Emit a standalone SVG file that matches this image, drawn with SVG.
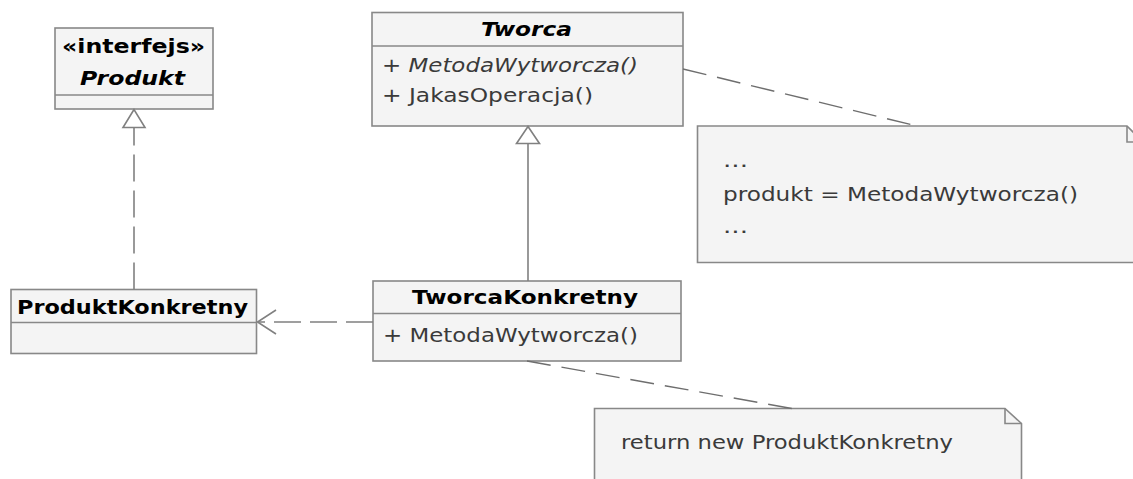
<svg xmlns="http://www.w3.org/2000/svg" width="1133" height="479" viewBox="0 0 1133 479">
  <style>
    .box { fill: #f4f4f4; stroke: #888888; stroke-width: 1.6; }
    .sep { stroke: #888888; stroke-width: 1.6; fill: none; }
    .name { font-family: "DejaVu Sans", Verdana, sans-serif; font-size: 20px; font-weight: bold; fill: #000000; }
    .abstract { font-style: italic; }
    .member { font-family: "DejaVu Sans", Verdana, sans-serif; font-size: 20px; fill: #3a3a3a; }
    .note { fill: #f4f4f4; stroke: #888888; stroke-width: 1.6; }
    .line { stroke: #808080; stroke-width: 1.6; fill: none; }
    .dash { stroke-dasharray: 27 9; }
    .link { stroke: #6e6e6e; stroke-width: 1.4; fill: none; stroke-dasharray: 24 11; }
    .head { fill: #ffffff; stroke: #808080; stroke-width: 1.6; }
  </style>

  <!-- interface Produkt -->
  <g id="produkt">
    <rect class="box" x="55" y="28" width="158" height="81"/>
    <line class="sep" x1="55" y1="95" x2="213" y2="95"/>
    <text class="name" x="62" y="53" textLength="143" lengthAdjust="spacingAndGlyphs">«interfejs»</text>
    <text class="name abstract" x="80" y="85" textLength="105" lengthAdjust="spacingAndGlyphs">Produkt</text>
  </g>

  <!-- abstract creator -->
  <g id="tworca">
    <rect class="box" x="372" y="12.5" width="311" height="113.5"/>
    <line class="sep" x1="372" y1="46" x2="683" y2="46"/>
    <text class="name abstract" x="481" y="36" textLength="91" lengthAdjust="spacingAndGlyphs">Tworca</text>
    <text class="member abstract" x="382" y="72" textLength="256" lengthAdjust="spacingAndGlyphs">+ MetodaWytworcza()</text>
    <text class="member" x="382" y="102" textLength="211" lengthAdjust="spacingAndGlyphs">+ JakasOperacja()</text>
  </g>

  <!-- concrete product -->
  <g id="produkt-konkretny">
    <rect class="box" x="11" y="289.5" width="245.5" height="64"/>
    <line class="sep" x1="11" y1="322.5" x2="256.5" y2="322.5"/>
    <text class="name" x="17" y="313.5" textLength="231" lengthAdjust="spacingAndGlyphs">ProduktKonkretny</text>
  </g>

  <!-- concrete creator -->
  <g id="tworca-konkretny">
    <rect class="box" x="373" y="281" width="308" height="80"/>
    <line class="sep" x1="373" y1="313.5" x2="681" y2="313.5"/>
    <text class="name" x="412" y="303.5" textLength="226" lengthAdjust="spacingAndGlyphs">TworcaKonkretny</text>
    <text class="member" x="383" y="342" textLength="255" lengthAdjust="spacingAndGlyphs">+ MetodaWytworcza()</text>
  </g>

  <!-- note on the factory method usage -->
  <g id="note-operacja">
    <path class="note" d="M697.5 126 H1127 L1143 142 V262.5 H697.5 Z"/>
    <path class="sep" d="M1127 126 V142 H1143"/>
    <text class="member" x="723" y="167" textLength="25" lengthAdjust="spacingAndGlyphs">...</text>
    <text class="member" x="723" y="201" textLength="355" lengthAdjust="spacingAndGlyphs">produkt = MetodaWytworcza()</text>
    <text class="member" x="723" y="233" textLength="25" lengthAdjust="spacingAndGlyphs">...</text>
  </g>

  <!-- note on the concrete factory method -->
  <g id="note-return">
    <path class="note" d="M594.5 408.5 H1005 L1021.5 423.5 V490 H594.5 Z"/>
    <path class="sep" d="M1005 408.5 V423.5 H1021.5"/>
    <text class="member" x="621" y="448.5" textLength="332" lengthAdjust="spacingAndGlyphs">return new ProduktKonkretny</text>
  </g>

  <g id="connectors">
    <!-- realization: ProduktKonkretny implements Produkt -->
    <line class="line dash" x1="134" y1="289.5" x2="134" y2="128"/>
    <polygon class="head" points="134,109.5 123,127.5 145,127.5"/>

    <!-- generalization: TworcaKonkretny extends Tworca -->
    <line class="line" x1="528" y1="281" x2="528" y2="143.5"/>
    <polygon class="head" points="528,126.5 516.5,143.5 539.5,143.5"/>

    <!-- dependency: TworcaKonkretny creates ProduktKonkretny -->
    <line class="line dash" x1="373" y1="322" x2="258" y2="322"/>
    <polyline class="line" points="276,310 257.5,322 276,334"/>

    <!-- note anchors -->
    <line class="link" x1="683" y1="69" x2="917" y2="126"/>
    <line class="link" x1="527" y1="361" x2="792" y2="408.5"/>
  </g>
</svg>
